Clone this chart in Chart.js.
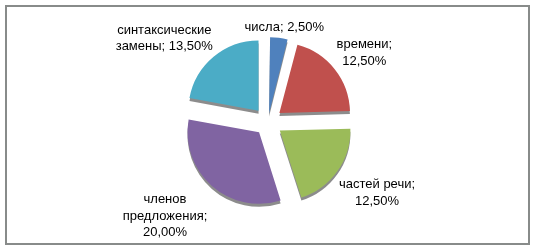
<!DOCTYPE html>
<html>
<head>
<meta charset="utf-8">
<script src="https://cdn.jsdelivr.net/npm/chart.js@4"></script>
<style>
  body { margin: 0; background: #fff; }
  .wrap { position: relative; width: 533px; height: 248px; }
  .frame { position: absolute; left: 5px; top: 5px; width: 525px; height: 240px;
           box-sizing: border-box; border: 2px solid #888b8a; pointer-events: none; }
</style>
</head>
<body>
<div class="wrap">
  <canvas id="chart1"></canvas>
  <div class="frame"></div>
</div>
<script>
const categories = ['числа', 'времени', 'частей речи', 'членов предложения', 'синтаксические замены'];
const values = [2.5, 12.5, 12.5, 20, 13.5];
const colors = ['#4F81BD', '#C0504D', '#9BBB59', '#8064A2', '#4BACC6'];
const explode = [34, 58, 58, 54, 59];

const FONT = '13px "Liberation Sans", Arial, sans-serif';
const LINE_H = 16.5;
const WRAP_W = 100;

function labelText(i) {
    return categories[i] + '; ' + values[i].toFixed(2).replace('.', ',') + '%';
}

function wrapLines(ctx, text) {
    const words = text.split(' ');
    const lines = [];
    let cur = '';
    words.forEach(w => {
        const test = cur ? cur + ' ' + w : w;
        if (cur && ctx.measureText(test).width > WRAP_W) {
            lines.push(cur);
            cur = w;
        } else {
            cur = test;
        }
    });
    if (cur) lines.push(cur);
    return lines;
}

// тень снизу (3D край) + подписи снаружи секторов
const pieLabels = {
    id: 'pieLabels',
    beforeDatasetsDraw(chart) {
        const ctx = chart.ctx;
        ctx.save();
        ctx.shadowColor = 'rgba(0,0,0,0.45)';
        ctx.shadowOffsetX = 0;
        ctx.shadowOffsetY = 3;
        ctx.shadowBlur = 0;
    },
    afterDatasetsDraw(chart) {
        const ctx = chart.ctx;
        ctx.restore();
        const meta = chart.getDatasetMeta(0);
        ctx.save();
        ctx.font = FONT;
        ctx.fillStyle = '#000';
        ctx.textAlign = 'center';
        ctx.textBaseline = 'middle';
        meta.data.forEach((arc, i) => {
            const p = arc.getProps(['x', 'y', 'startAngle', 'endAngle', 'outerRadius', 'circumference']);
            const mid = (p.startAngle + p.endAngle) / 2;
            const dx = Math.cos(mid), dy = Math.sin(mid);
            const off = explode[i] / 4;
            const fix = 1 - Math.sin(Math.min(Math.PI, p.circumference));
            const shift = off + off * fix;
            const lines = wrapLines(ctx, labelText(i));
            const w = Math.max(...lines.map(l => ctx.measureText(l).width));
            const h = lines.length * LINE_H;
            const gap = 15 - 13 * dy * dy;
            const a = p.outerRadius + shift + gap;
            let cx = p.x + dx * a + dx * w / 2;
            const cy = p.y + dy * a + dy * h / 2 + (dy > 0 ? 6 : 0);
            if (dx < 0) cx += dx * 21;
            lines.forEach((l, k) => {
                ctx.fillText(l, cx, cy - h / 2 + LINE_H / 2 + k * LINE_H);
            });
        });
        ctx.restore();
    }
};

new Chart(document.getElementById('chart1'), {
    type: 'pie',
    data: {
        labels: categories,
        datasets: [{
            data: values,
            backgroundColor: colors,
            borderWidth: 0,
            offset: explode,
            hoverOffset: 0
        }]
    },
    options: {
        responsive: true,
        maintainAspectRatio: false,
        animation: false,
        radius: 70,
        layout: { padding: { left: 13, right: 10, top: 10, bottom: 14 } },
        plugins: {
            legend: { display: false },
            tooltip: { enabled: false }
        }
    },
    plugins: [pieLabels]
});
</script>
</body>
</html>
